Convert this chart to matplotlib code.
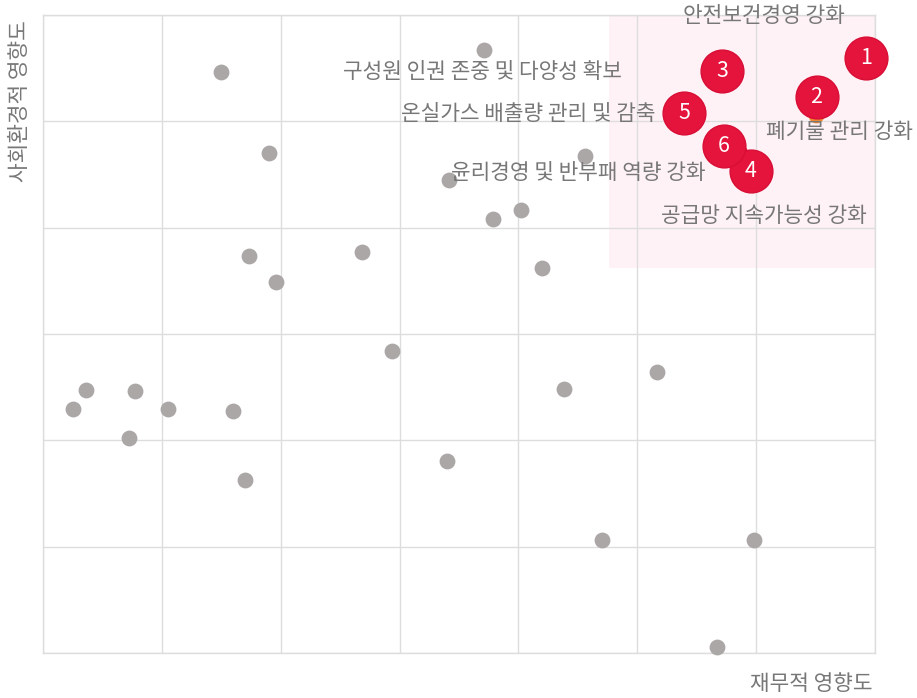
import matplotlib
matplotlib.use("Agg")
import matplotlib.pyplot as plt
import matplotlib.transforms as mtransforms

plt.rcParams['font.family'] = ['Noto Sans CJK KR', 'DejaVu Sans']

# grey (other issues)
grey_x = [0.25, 0.36, 0.77, 0.72, 1.05, 1.60, 1.70, 1.50, 1.90, 1.73, 1.96, 2.68, 2.94,
          3.40, 3.71, 3.42, 3.79, 4.02, 4.56, 4.20, 4.38, 5.17, 4.70, 5.98, 5.67]
grey_y = [2.29, 2.47, 2.46, 2.02, 2.29, 2.28, 1.63, 5.46, 4.70, 3.73, 3.49, 3.77, 2.84,
          1.81, 5.67, 4.45, 4.08, 4.17, 4.67, 3.62, 2.48, 2.64, 1.06, 1.06, 0.06]

# material issues
ranks = ["1", "2", "3", "4", "5", "6"]
issues = ["안전보건경영 강화", "폐기물 관리 강화", "구성원 인권 존중 및 다양성 확보",
          "공급망 지속가능성 강화", "온실가스 배출량 관리 및 감축", "윤리경영 및 반부패 역량 강화"]
top_x = [6.92, 6.50, 5.78, 6.03, 5.47, 5.86]
top_y = [5.47, 5.06, 5.43, 4.61, 5.09, 4.70]

x_ticks = [0, 1, 2, 3, 4, 5, 6, 7]
y_ticks = [0, 1, 2, 3, 4, 5, 6]
highlight_x = (4.76, 7)
highlight_y = (3.62, 6)

# styling: circle offsets and label offsets in pixels (dx, dy with y up)
circle_off = [(1, 13), (1, 18), (-8, 5), (-9, -8), (-9, -1), (-16, 7)]
label_off = [(-102, 55, 'center'), (24, -17, 'center'), (-108, 4, 'right'),
             (4, -53, 'center'), (-38, -2, 'right'), (-34, -20, 'right')]

RED = '#e5143c'
GREY = '#aca7a7'
TXT = '#777777'
FS = 15.4

fig = plt.figure(figsize=(9.17, 6.98), dpi=100)
ax = fig.add_axes([43/917, 1-653/698, 832/917, 638/698])
ax.set_xlim(0, 7)
ax.set_ylim(0, 6)
ax.set_xticks(x_ticks)
ax.set_yticks(y_ticks)
ax.tick_params(length=0, labelbottom=False, labelleft=False)
ax.grid(True, color='#dddddd', linewidth=1)
for s in ax.spines.values():
    s.set_color('#dddddd')
    s.set_linewidth(1)
ax.set_axisbelow(True)

ax.axvspan(highlight_x[0], highlight_x[1], ymin=(highlight_y[0])/6, ymax=1,
           color='#fff2f6', zorder=0.5, linewidth=0)

ax.scatter(grey_x, grey_y, s=130, color=GREY, linewidths=0, zorder=3, clip_on=False)

for i in range(len(ranks)):
    col = '#f08a30' if i == 1 else RED
    ax.scatter([top_x[i]], [top_y[i]], s=130, color=col, linewidths=0, zorder=4,
               clip_on=False)

for i in range(len(ranks)):
    dx, dy = circle_off[i]
    tr = mtransforms.offset_copy(ax.transData, fig=fig, x=dx, y=dy, units='dots')
    ax.scatter([top_x[i]], [top_y[i]], s=950, color=RED, edgecolors='#d80e36',
               linewidths=1, zorder=5, transform=tr, clip_on=False)
    ax.text(top_x[i], top_y[i], ranks[i], transform=tr, ha='center', va='center',
            color='white', fontsize=FS, zorder=6, clip_on=False)

for i in range(len(ranks)):
    dx, dy, ha = label_off[i]
    tr = mtransforms.offset_copy(ax.transData, fig=fig, x=dx, y=dy, units='dots')
    ax.text(top_x[i], top_y[i], issues[i], transform=tr, ha=ha, va='center',
            color=TXT, fontsize=FS, zorder=7, clip_on=False)

fig.text(873/917, 1-684/698, "재무적 영향도", ha='right', va='center',
         color=TXT, fontsize=FS)
fig.text(20/917, 1-101/698, "사회환경적 영향도", ha='center', va='center', rotation=90,
         color=TXT, fontsize=FS)

fig.savefig("out.png", dpi=100)
